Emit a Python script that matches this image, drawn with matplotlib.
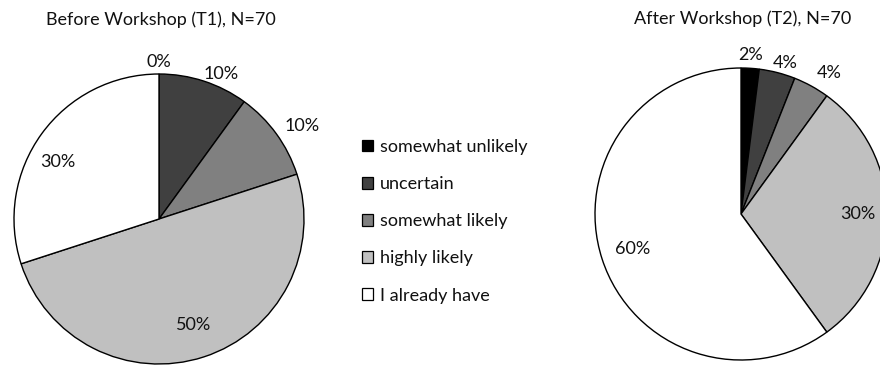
import numpy as np
import matplotlib
matplotlib.use("Agg")
import matplotlib.pyplot as plt
from matplotlib.patches import Patch

plt.rcParams['font.family'] = ['Lato', 'DejaVu Sans']

# Datos (porcentajes)
categorias = ['somewhat unlikely', 'uncertain', 'somewhat likely',
              'highly likely', 'I already have']
antes = [0, 10, 10, 50, 30]      # Before Workshop (T1)
despues = [2, 4, 4, 30, 60]      # After Workshop (T2)
titulo_antes = 'Before Workshop (T1), N=70'
titulo_despues = 'After Workshop (T2), N=70'

colores = ['#000000', '#404040', '#808080', '#c0c0c0', '#ffffff']
tam = 13

fig = plt.figure(figsize=(8.8, 3.65), dpi=100)

# ejes de cada pastel (radio = 1 en datos)
ax1 = fig.add_axes([14 / 880, 1 / 365, 290 / 880, 290 / 365])
ax2 = fig.add_axes([595 / 880, 5 / 365, 292 / 880, 292 / 365])


def dibujar(ax, valores, dist, giro):
    wedges, _ = ax.pie(valores, colors=colores, startangle=90,
                       counterclock=False, radius=1.0,
                       wedgeprops=dict(edgecolor='black', linewidth=1.0))
    for w, v, d, g in zip(wedges, valores, dist, giro):
        ang = np.deg2rad((w.theta1 + w.theta2) / 2 + g)
        ax.text(d * np.cos(ang), d * np.sin(ang), f'{v}%',
                ha='center', va='center', fontsize=tam, color='#111111')
    ax.set_xlim(-1, 1)
    ax.set_ylim(-1, 1)
    ax.set_aspect('equal')
    ax.axis('off')


dibujar(ax1, antes, [1.08, 1.09, 1.18, 0.77, 0.80], [0, -5, -3, 0, 6.5])
dibujar(ax2, despues, [1.09, 1.08, 1.14, 0.80, 0.78], [0, -2, -3, 0, 0])

fig.text(161 / 880, 1 - 20 / 365, titulo_antes, ha='center', va='center',
         fontsize=tam, color='#111111')
fig.text(743 / 880, 1 - 19 / 365, titulo_despues, ha='center', va='center',
         fontsize=tam, color='#111111')

handles = [Patch(facecolor=c, edgecolor='black', linewidth=0.9)
           for c in colores]
fig.legend(handles, categorias, loc='upper left',
           bbox_to_anchor=(362 / 880, 1 - 139 / 365), frameon=False,
           fontsize=tam, handlelength=0.61, handleheight=0.61,
           handletextpad=0.39, labelspacing=1.17, borderpad=0,
           borderaxespad=0, labelcolor='#111111')

fig.savefig('out.png', dpi=100)
